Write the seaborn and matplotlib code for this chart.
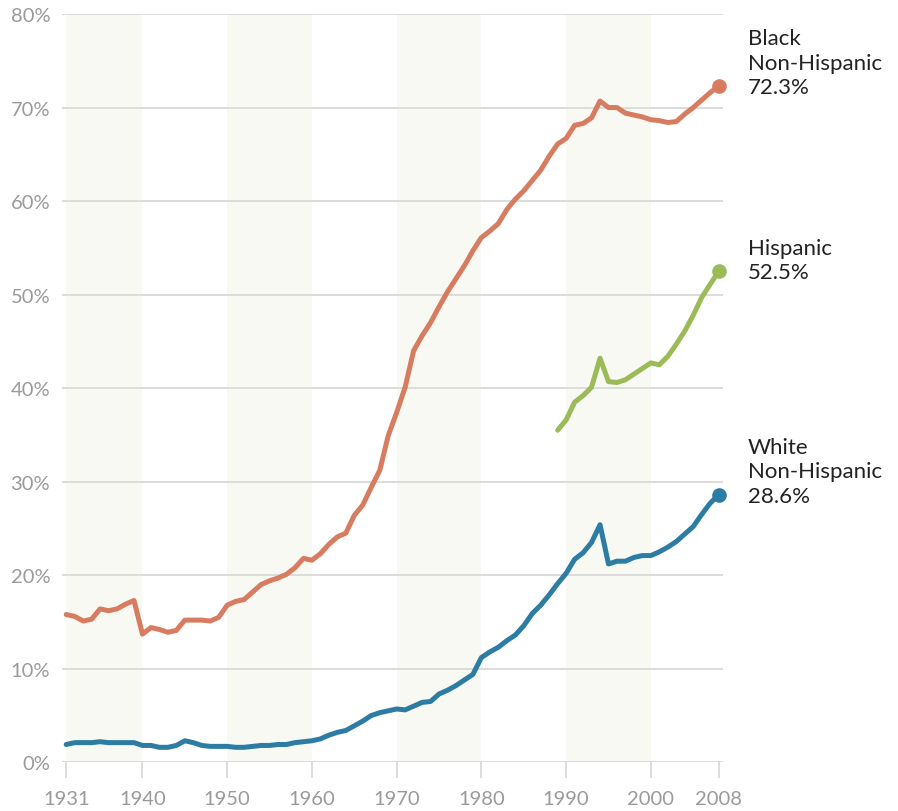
import numpy as np
import pandas as pd
import matplotlib
matplotlib.use("Agg")
import matplotlib.pyplot as plt
import seaborn as sns

# share of births (%) by year
years = list(range(1931, 2009))

black_nh = [
    15.8, 15.6, 15.1, 15.3, 16.4, 16.2, 16.4, 16.9, 17.3, 13.7,
    14.4, 14.2, 13.9, 14.1, 15.2, 15.2, 15.2, 15.1, 15.5, 16.8,
    17.2, 17.4, 18.2, 19.0, 19.4, 19.7, 20.1, 20.8, 21.8, 21.6,
    22.3, 23.3, 24.1, 24.5, 26.4, 27.5, 29.4, 31.2, 34.9, 37.4,
    40.1, 44.0, 45.6, 47.0, 48.7, 50.3, 51.7, 53.1, 54.7, 56.1,
    56.8, 57.6, 59.1, 60.2, 61.1, 62.2, 63.3, 64.8, 66.1, 66.7,
    68.1, 68.3, 68.9, 70.7, 70.0, 70.0, 69.4, 69.2, 69.0, 68.7,
    68.6, 68.4, 68.5, 69.3, 70.0, 70.8, 71.6, 72.3,
]

white_nh = [
    1.9, 2.1, 2.1, 2.1, 2.2, 2.1, 2.1, 2.1, 2.1, 1.8,
    1.8, 1.6, 1.6, 1.8, 2.3, 2.1, 1.8, 1.7, 1.7, 1.7,
    1.6, 1.6, 1.7, 1.8, 1.8, 1.9, 1.9, 2.1, 2.2, 2.3,
    2.5, 2.9, 3.2, 3.4, 3.9, 4.4, 5.0, 5.3, 5.5, 5.7,
    5.6, 6.0, 6.4, 6.5, 7.3, 7.7, 8.2, 8.8, 9.4, 11.2,
    11.8, 12.3, 13.0, 13.6, 14.6, 15.9, 16.8, 17.9, 19.1, 20.2,
    21.7, 22.4, 23.5, 25.4, 21.2, 21.5, 21.5, 21.9, 22.1, 22.1,
    22.5, 23.0, 23.6, 24.4, 25.2, 26.5, 27.7, 28.6,
]

hisp_years = list(range(1989, 2009))
hispanic = [
    35.5, 36.6, 38.5, 39.2, 40.1, 43.2, 40.7, 40.6, 40.9, 41.5,
    42.1, 42.7, 42.5, 43.4, 44.7, 46.1, 47.8, 49.7, 51.1, 52.5,
]

groups = ["Black Non-Hispanic", "Hispanic", "White Non-Hispanic"]
end_labels = ["Black\nNon-Hispanic\n72.3%", "Hispanic\n52.5%", "White\nNon-Hispanic\n28.6%"]
colors = ["#d77c60", "#9bbb59", "#2c7ca4"]

bands = [(1931, 1940), (1950, 1960), (1970, 1980), (1990, 2000)]
xticks = [1931, 1940, 1950, 1960, 1970, 1980, 1990, 2000, 2008]
yticks = [0, 10, 20, 30, 40, 50, 60, 70, 80]

df = pd.concat([
    pd.DataFrame({"year": years, "share": black_nh, "group": groups[0]}),
    pd.DataFrame({"year": hisp_years, "share": hispanic, "group": groups[1]}),
    pd.DataFrame({"year": years, "share": white_nh, "group": groups[2]}),
])

sns.set_theme(style="white")
plt.rcParams["font.family"] = ["Lato", "DejaVu Sans"]

fig = plt.figure(figsize=(8.98, 8.12), dpi=100)
ax = fig.add_axes([0.069, 0.06, 0.736, 0.9215])

for a, b in bands:
    ax.axvspan(a, b, color="#f8f9f2", zorder=0, lw=0)

for y in yticks:
    ax.axhline(y, color="#d9d9d9", lw=1.3, zorder=1)

palette = dict(zip(groups, colors))
sns.lineplot(data=df, x="year", y="share", hue="group", palette=palette,
             linewidth=3.6, legend=False, ax=ax, zorder=3, clip_on=False)

for g, lab, c in zip(groups, end_labels, colors):
    last = df[df["group"] == g].iloc[-1]
    ax.plot(last["year"], last["share"], "o", color=c, markersize=9.5,
            zorder=4, clip_on=False)
    ax.annotate(lab, (last["year"], last["share"]), xytext=(21, -8),
                textcoords="offset points", ha="left", va="bottom",
                fontsize=16, color="#222222", linespacing=1.28,
                annotation_clip=False)

ax.set_xlim(1930.5, 2008.5)
ax.set_ylim(0, 80)
ax.set_xticks(xticks)
ax.set_yticks(yticks)
ax.set_yticklabels([f"{v}%" for v in yticks])
ax.set_xlabel("")
ax.set_ylabel("")
for s in ax.spines.values():
    s.set_visible(False)

ax.tick_params(axis="x", length=11.5, width=1.3, color="#d9d9d9",
               labelsize=14.5, labelcolor="#9a9a9a", pad=8.5, bottom=True)
ax.tick_params(axis="y", length=0, labelsize=14.5, labelcolor="#9a9a9a", pad=8.5)

fig.savefig("out.png", dpi=100)
